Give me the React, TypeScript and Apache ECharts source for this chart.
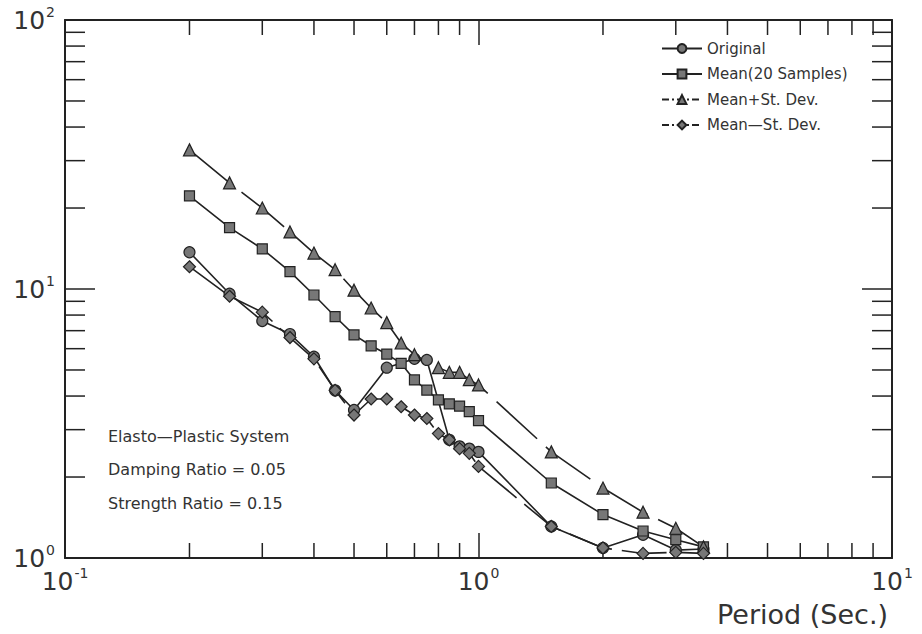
import React, { useEffect, useRef } from "react";
import * as echarts from "echarts";

// ---- data (Period in sec, normalized response) ----
const originalPeriod = [0.2, 0.25, 0.3, 0.35, 0.4, 0.45, 0.5, 0.6, 0.7, 0.75, 0.85, 0.9, 0.95, 1.0, 1.5, 2.0, 2.5, 3.0, 3.5];
const originalValue = [13.7, 9.6, 7.6, 6.8, 5.6, 4.2, 3.55, 5.1, 5.5, 5.45, 2.75, 2.6, 2.55, 2.48, 1.31, 1.09, 1.22, 1.07, 1.08];

const meanPeriod = [0.2, 0.25, 0.3, 0.35, 0.4, 0.45, 0.5, 0.55, 0.6, 0.65, 0.7, 0.75, 0.8, 0.85, 0.9, 0.95, 1.0, 1.5, 2.0, 2.5, 3.0, 3.5];
const meanValue = [22.2, 16.9, 14.1, 11.6, 9.5, 7.9, 6.75, 6.15, 5.73, 5.29, 4.59, 4.21, 3.87, 3.74, 3.67, 3.5, 3.24, 1.9, 1.45, 1.26, 1.17, 1.1];

const plusPeriod = [0.2, 0.25, 0.3, 0.35, 0.4, 0.45, 0.5, 0.55, 0.6, 0.65, 0.7, 0.8, 0.85, 0.9, 0.95, 1.0, 1.5, 2.0, 2.5, 3.0, 3.5];
const plusValue = [32.9, 24.8, 20.0, 16.3, 13.6, 11.8, 9.9, 8.5, 7.5, 6.3, 5.7, 5.1, 4.9, 4.9, 4.6, 4.4, 2.48, 1.82, 1.48, 1.29, 1.1];

const minusPeriod = [0.2, 0.25, 0.3, 0.35, 0.4, 0.45, 0.5, 0.55, 0.6, 0.65, 0.7, 0.75, 0.8, 0.85, 0.9, 0.95, 1.0, 1.5, 2.0, 2.5, 3.0, 3.5];
const minusValue = [12.1, 9.4, 8.2, 6.6, 5.5, 4.2, 3.4, 3.9, 3.9, 3.65, 3.4, 3.3, 2.9, 2.75, 2.55, 2.45, 2.19, 1.31, 1.09, 1.04, 1.05, 1.04];

const seriesNames = ["Original", "Mean(20 Samples)", "Mean+St. Dev.", "Mean\u2014St. Dev."];

// minor tick positions of the log axes
const xMinorTicks = [0.2, 0.3, 0.4, 0.5, 0.6, 0.7, 0.8, 0.9, 2, 3, 4, 5, 6, 7, 8, 9];
const yMinorTicks = [2, 3, 4, 5, 6, 7, 8, 9, 20, 30, 40, 50, 60, 70, 80, 90];

const noteLines = ["Elasto\u2014Plastic System", "Damping Ratio = 0.05", "Strength Ratio = 0.15"];
const xAxisTitle = "Period (Sec.)";

const FONT = "'DejaVu Sans', sans-serif";
const INK = "#222";
const TEXT = "#333";
const FILL = "#777";

function pairs(p: number[], v: number[]) {
  return p.map((x, i) => [x, v[i]]);
}

function supLabel(value: number) {
  const e = Math.round(Math.log10(value));
  return `{b|10}{s|${e}}`;
}

const labelRich = {
  b: { fontSize: 25, fontFamily: FONT, color: TEXT, lineHeight: 30 },
  s: { fontSize: 14, fontFamily: FONT, color: TEXT, verticalAlign: "top", padding: [0, 0, 0, 1] },
};

export default function App() {
  const ref = useRef<HTMLDivElement>(null);

  useEffect(() => {
    if (!ref.current) return;
    const chart = echarts.init(ref.current, null, { renderer: "svg" });

    const lineSeries = (name: string, data: number[][], symbol: string, size: number, dash: any) => ({
      name,
      type: "line",
      data,
      symbol,
      symbolSize: size,
      showAllSymbol: true,
      xAxisIndex: 0,
      yAxisIndex: 0,
      lineStyle: { color: INK, width: 1.6, type: dash },
      itemStyle: { color: FILL, borderColor: INK, borderWidth: 1.2 },
      z: 3,
    });

    const minorStyle = { stroke: INK, lineWidth: 1.5 };

    chart.setOption({
      animation: false,
      backgroundColor: "#fff",
      grid: { left: 65, right: 30, top: 20, bottom: 76, containLabel: false },
      xAxis: [
        {
          type: "log",
          logBase: 10,
          min: 0.1,
          max: 10,
          position: "bottom",
          axisLine: { onZero: false, lineStyle: { color: INK, width: 2 } },
          axisTick: { inside: true, length: 25, lineStyle: { color: INK, width: 1.5 } },
          axisLabel: { margin: 8, formatter: supLabel, rich: labelRich },
          splitLine: { show: false },
        },
        {
          type: "log",
          logBase: 10,
          min: 0.1,
          max: 10,
          position: "top",
          axisLine: { onZero: false, lineStyle: { color: INK, width: 2 } },
          axisTick: { inside: true, length: 25, lineStyle: { color: INK, width: 1.5 } },
          axisLabel: { show: false },
          splitLine: { show: false },
        },
      ],
      yAxis: [
        {
          type: "log",
          logBase: 10,
          min: 1,
          max: 100,
          position: "left",
          axisLine: { onZero: false, lineStyle: { color: INK, width: 2 } },
          axisTick: { inside: true, length: 30, lineStyle: { color: INK, width: 1.5 } },
          axisLabel: { margin: 10, formatter: supLabel, rich: labelRich },
          splitLine: { show: false },
        },
        {
          type: "log",
          logBase: 10,
          min: 1,
          max: 100,
          position: "right",
          axisLine: { onZero: false, lineStyle: { color: INK, width: 2 } },
          axisTick: { inside: true, length: 30, lineStyle: { color: INK, width: 1.5 } },
          axisLabel: { show: false },
          splitLine: { show: false },
        },
      ],
      legend: {
        data: [
          { name: seriesNames[0] },
          { name: seriesNames[1] },
          { name: seriesNames[2], lineStyle: { type: [7, 3, 2, 3] } },
          { name: seriesNames[3], lineStyle: { type: [7, 3, 2, 3] } },
        ],
        orient: "vertical",
        left: 656,
        top: 36,
        itemWidth: 40,
        itemHeight: 11,
        itemGap: 10.5,
        textStyle: { fontFamily: FONT, fontSize: 15, color: TEXT },
      },
      graphic: [
        ...noteLines.map((t, i) => ({
          type: "text",
          left: 108,
          top: 428 + i * 33.5,
          style: { text: t, font: `16px ${FONT}`, fill: TEXT },
        })),
        {
          type: "text",
          right: 34,
          top: 601,
          style: { text: xAxisTitle, font: `27px ${FONT}`, fill: TEXT },
        },
      ],
      series: [
        lineSeries(seriesNames[0], pairs(originalPeriod, originalValue), "circle", 11, "solid"),
        lineSeries(seriesNames[1], pairs(meanPeriod, meanValue), "rect", 10, "solid"),
        lineSeries(seriesNames[2], pairs(plusPeriod, plusValue), "triangle", 12, [55, 12]),
        lineSeries(seriesNames[3], pairs(minusPeriod, minusValue), "diamond", 12, [45, 10]),
        {
          name: "xMinorTicks",
          type: "custom",
          silent: true,
          clip: false,
          xAxisIndex: 0,
          yAxisIndex: 0,
          data: xMinorTicks.map((v) => [v, 1]),
          encode: { x: 0, y: 1 },
          renderItem: (params: any, api: any) => {
            const cs = params.coordSys;
            const p = api.coord([api.value(0), api.value(1)]);
            const bottom = cs.y + cs.height;
            const top = cs.y;
            return {
              type: "group",
              children: [
                { type: "line", shape: { x1: p[0], y1: bottom, x2: p[0], y2: bottom - 15 }, style: minorStyle },
                { type: "line", shape: { x1: p[0], y1: top, x2: p[0], y2: top + 15 }, style: minorStyle },
              ],
            };
          },
          z: 1,
        },
        {
          name: "yMinorTicks",
          type: "custom",
          silent: true,
          clip: false,
          xAxisIndex: 0,
          yAxisIndex: 0,
          data: yMinorTicks.map((v) => [0.1, v]),
          encode: { x: 0, y: 1 },
          renderItem: (params: any, api: any) => {
            const cs = params.coordSys;
            const p = api.coord([api.value(0), api.value(1)]);
            const left = cs.x;
            const right = cs.x + cs.width;
            return {
              type: "group",
              children: [
                { type: "line", shape: { x1: left, y1: p[1], x2: left + 20, y2: p[1] }, style: minorStyle },
                { type: "line", shape: { x1: right, y1: p[1], x2: right - 20, y2: p[1] }, style: minorStyle },
              ],
            };
          },
          z: 1,
        },
      ],
    });

    return () => chart.dispose();
  }, []);

  return (
    <div
      ref={ref}
      style={{ position: "absolute", left: 0, top: 0, width: 922, height: 634 }}
    />
  );
}
